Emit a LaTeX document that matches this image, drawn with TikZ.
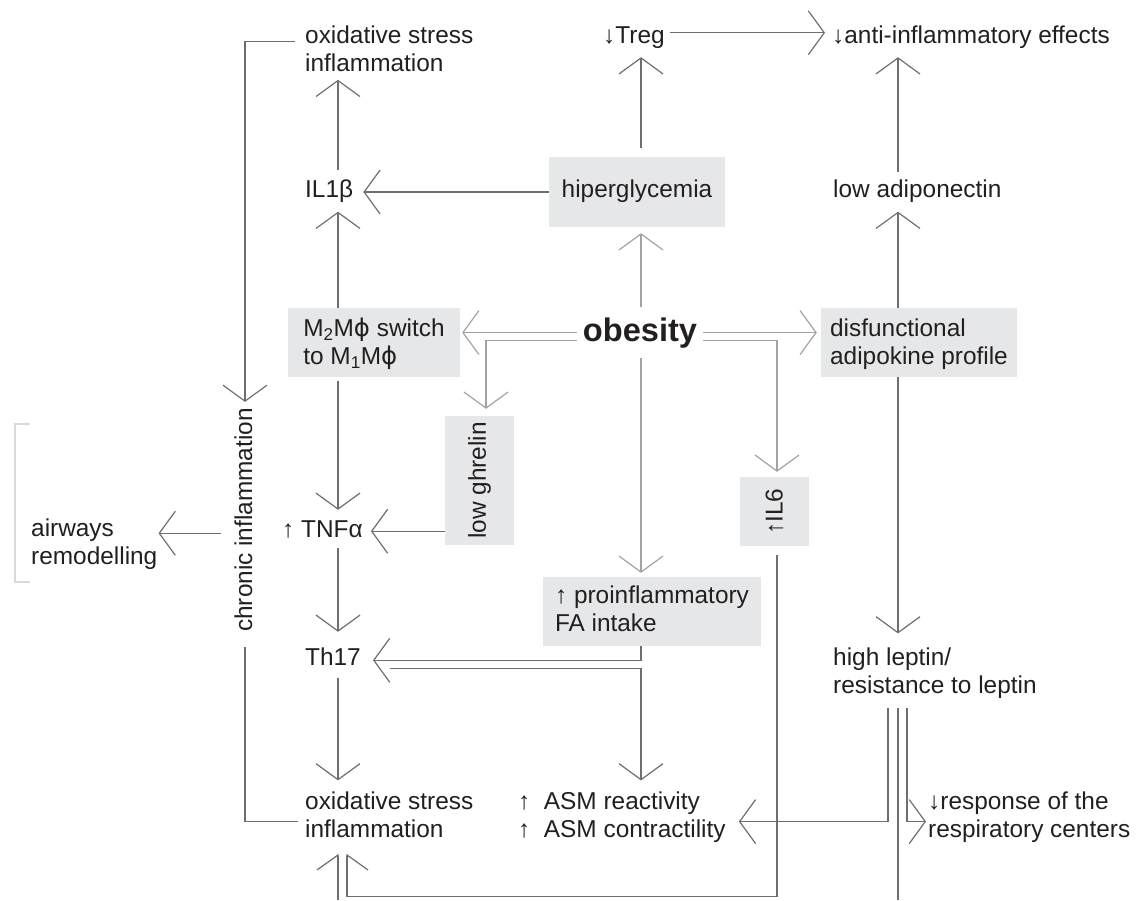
\documentclass[tikz,border=0pt]{standalone}
\usepackage{fontspec}
\setmainfont{Liberation Sans}
\newfontfamily\phifont{DejaVu Sans}
\usetikzlibrary{arrows.meta,calc}
\definecolor{txt}{HTML}{231F20}
\definecolor{lnD}{HTML}{6E6E6E}
\definecolor{lnL}{HTML}{A3A3A3}
\definecolor{boxF}{HTML}{E6E7E8}
\definecolor{brk}{HTML}{DADADA}
\newcommand\tallstrut{\rule{0pt}{25pt}}
\newcommand\mphi{{\phifont ϕ}}
\begin{document}
\begin{tikzpicture}[x=1pt,y=-1pt,
  font=\fontsize{24.4}{28}\selectfont, text=txt,
  lbl/.style={inner sep=0pt, text height=17.5pt, text depth=5pt, anchor=base west},
  multi/.style={inner sep=0pt, align=left, anchor=north west},
  box/.style={fill=boxF, inner sep=0pt, align=left},
  tipD/.style={-{Straight Barb[length=16pt,width=44pt]}},
  arrD/.style={draw=lnD, line width=1.2pt, tipD},
  arrL/.style={draw=lnL, line width=1.2pt, tipD},
  lineD/.style={draw=lnD, line width=1.2pt},
  halfL/.style={draw=lnD, line width=1.2pt, -{Straight Barb[length=15pt,width=42pt,harpoon]}},
  halfR/.style={draw=lnD, line width=1.2pt, -{Straight Barb[length=15pt,width=42pt,harpoon,swap]}},
]
\useasboundingbox (0,0) rectangle (1137,900);

% nodes
\node[multi] (topOx) at (305,23.4) {\strut oxidative stress\\\strut inflammation};
\node[lbl] (treg) at (603,43) {↓Treg};
\node[lbl] (anti) at (832,43) {↓anti-inflammatory effects};
\node[lbl] (il1b) at (305,197.5) {IL1β};
\node[box, minimum width=176pt, minimum height=70pt, align=center] (hyp) at (637,192) {\strut hiperglycemia};
\node[lbl] (lowadip) at (833,197.5) {low adiponectin};
\node[box, minimum width=172pt, minimum height=69pt] (m2) at (374,342.5) {\tallstrut M\textsubscript{2}M\mphi{} switch\\\strut to M\textsubscript{1}M\mphi};
\node[inner sep=0pt, font=\bfseries\fontsize{32.6}{36}\selectfont, anchor=base] (obesity) at (640,341) {obesity};
\node[box, minimum width=196pt, minimum height=69pt] (dysf) at (919,342.5) {\tallstrut disfunctional\\\strut adipokine profile};
\node[box, rotate=90, minimum width=129pt, minimum height=69pt] (ghrel) at (479.5,480.5) {low ghrelin};
\node[box, rotate=90, minimum width=69pt, minimum height=69pt] (il6) at (774.5,511.5) {↑IL6};
\node[lbl] (tnf) at (282,537.5) {↑ TNFα};
\node[multi] (airways) at (31,516.4) {\strut airways\\\strut remodelling};
\node[inner sep=0pt, rotate=90, anchor=base] (chronic) at (252,520) {chronic inflammation};
\node[lbl] (th17) at (305,665.5) {Th17};
\node[box, minimum width=218pt, minimum height=69pt] (fa) at (652,611.5) {\strut ↑ proinflammatory\\\strut FA intake};
\node[multi] (botOx) at (305,789.4) {\strut oxidative stress\\\strut inflammation};
\node[multi] (asm) at (518,789.4) {\strut ↑~~ASM reactivity\\\strut ↑~~ASM contractility};
\node[multi] (leptin) at (833,645.4) {\strut high leptin/\\\strut resistance to leptin};
\node[multi] (resp) at (928,789.4) {\strut ↓response of the\\\strut respiratory centers};

% columns and free ends
\coordinate (cA) at (338,0);
\coordinate (cO) at (641,0);
\coordinate (cR) at (898,0);
\coordinate (cC) at (245,0);
\coordinate (cG) at (486,0);
\coordinate (cI) at (777,0);
\coordinate (offL) at (338,900);
\coordinate (offR) at (898,900);

% faint bracket
\draw[brk, line width=1.5pt] (30,424) -- (15,424) -- (15,582) -- (30,582);

% connectors
\draw[arrD] ($(il1b.north -| cA)+(0,-10)$) -- (topOx.south -| cA);
\draw[arrD] (hyp.west) -- ($(il1b.east |- hyp.west)+(10,0)$);
\draw[arrD] (m2.north -| cA) -- ($(il1b.south -| cA)+(0,9)$);
\draw[arrL] ($(obesity.north -| cO)+(0,-10)$) -- ($(hyp.south -| cO)+(0,6)$);
\draw[arrD] ($(hyp.north -| cO)+(0,-9)$) -- ($(treg.south -| cO)+(0,9)$);
\draw[arrD] ($(treg.east)+(5,-4)$) -- ($(anti.west |- treg.east)+(-7,-4)$);
\draw[arrD] ($(lowadip.north -| cR)+(0,-8)$) -- ($(anti.south -| cR)+(0,9)$);
\draw[arrD] (dysf.north -| cR) -- ($(lowadip.south -| cR)+(0,9)$);
\draw[arrL] ($(obesity.west)+(-6,0)$) -- ($(m2.east |- obesity.west)+(2,0)$);
\draw[arrL] ($(obesity.west)+(-6,8)$) -| ($(ghrel.east -| cG)+(0,-7)$);
\draw[arrL] ($(obesity.east)+(6,0)$) -- ($(dysf.west |- obesity.east)+(-4,0)$);
\draw[arrL] ($(obesity.east)+(6,8)$) -| ($(il6.east -| cI)+(0,-5)$);
\draw[arrL] ($(obesity.south -| cO)+(0,10)$) -- ($(fa.north -| cO)+(0,-4)$);
\draw[arrD] ($(m2.south -| cA)+(0,4)$) -- ($(tnf.north -| cA)+(0,-10)$);
\draw[arrD] (ghrel.north |- tnf.east) -- ($(tnf.east)+(8,0)$);
\draw[arrD] ($(chronic.north |- tnf.east)+(-13,2)$) -- ($(airways.east |- tnf.east)+(1,2)$);
\draw[arrD] ($(tnf.south -| cA)+(0,5)$) -- ($(th17.north -| cA)+(0,-16)$);
\draw[arrD] (fa.south -| cO) |- ($(th17.east)+(12,1)$);
\draw[arrD] ($(th17.east)+(29,9)$) -| ($(asm.north -| cO)+(0,-9)$);
\draw[arrD] ($(th17.south -| cA)+(0,7)$) -- ($(botOx.north -| cA)+(0,-9)$);
\draw[arrD] ($(topOx.north west)+(-10,18)$) -| ($(chronic.east -| cC)+(0,-6)$);
\draw[lineD] ($(botOx.north west)+(-7,32)$) -| ($(chronic.west -| cC)+(0,15)$);
\draw[halfR] ($(il6.west -| cI)+(0,9)$) |- ($(botOx.south -| cA)+(9,51)$) -- ($(botOx.south -| cA)+(9,8)$);
\draw[halfL] (offL) -- ($(botOx.south -| cA)+(0,8)$);
\draw[arrD] (dysf.south -| cR) -- ($(leptin.north -| cR)+(0,-12)$);
\draw[arrD] ($(leptin.south -| cR)+(-10,6)$) |- ($(asm.east)+(13,4)$);
\draw[arrD] ($(leptin.south -| cR)+(9,6)$) |- ($(resp.west)+(-2,4)$);
\draw[lineD] ($(leptin.south -| cR)+(0,6)$) -- (offR);
\end{tikzpicture}
\end{document}
